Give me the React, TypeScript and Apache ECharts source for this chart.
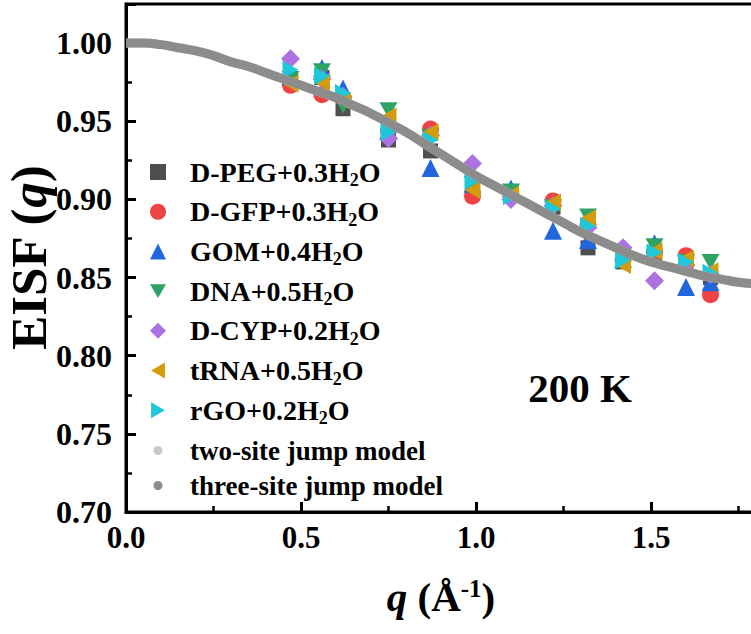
import React, { useEffect, useRef } from "react";
import * as echarts from "echarts";

const Q = [0.47, 0.56, 0.62, 0.75, 0.87, 0.99, 1.1, 1.22, 1.32, 1.42, 1.51, 1.6, 1.67];
const D_PEG = [0.977, 0.978, 0.958, 0.938, 0.931, 0.908, 0.903, 0.895, 0.869, 0.860, 0.866, 0.860, 0.850];
const D_GFP = [0.973, 0.967, 0.965, 0.944, 0.945, 0.902, 0.903, 0.899, 0.884, 0.861, 0.866, 0.864, 0.839];
const GOM = [0.979, 0.984, 0.971, 0.944, 0.920, 0.910, 0.907, 0.880, 0.874, 0.862, 0.872, 0.844, 0.847];
const DNA = [0.977, 0.982, 0.960, 0.957, 0.940, 0.910, 0.905, 0.895, 0.889, 0.862, 0.870, 0.860, 0.860];
const D_CYP = [0.990, 0.977, 0.966, 0.939, 0.941, 0.923, 0.900, 0.896, 0.882, 0.869, 0.848, 0.858, 0.852];
const TRNA = [0.974, 0.975, 0.963, 0.953, 0.943, 0.906, 0.903, 0.898, 0.888, 0.858, 0.867, 0.862, 0.854];
const RGO = [0.983, 0.979, 0.968, 0.943, 0.938, 0.912, 0.902, 0.894, 0.883, 0.861, 0.866, 0.860, 0.853];

const MODEL_Q = [0, 0.05, 0.1, 0.15, 0.2, 0.25, 0.3, 0.35, 0.4, 0.45, 0.5, 0.55, 0.6, 0.65, 0.7, 0.75, 0.8, 0.85, 0.9, 0.95, 1.0, 1.05, 1.1, 1.15, 1.2, 1.25, 1.3, 1.35, 1.4, 1.45, 1.5, 1.55, 1.6, 1.65, 1.7, 1.75, 1.8];
const THREE_SITE = [1.0, 1.0, 0.999, 0.997, 0.995, 0.992, 0.988, 0.985, 0.981, 0.977, 0.973, 0.969, 0.965, 0.960, 0.955, 0.949, 0.943, 0.936, 0.929, 0.922, 0.915, 0.909, 0.903, 0.897, 0.891, 0.885, 0.879, 0.874, 0.869, 0.864, 0.860, 0.857, 0.854, 0.851, 0.849, 0.847, 0.846];
const TWO_SITE = [1.0, 1.0, 0.999, 0.997, 0.995, 0.992, 0.988, 0.985, 0.981, 0.977, 0.973, 0.969, 0.965, 0.960, 0.955, 0.949, 0.943, 0.936, 0.929, 0.922, 0.915, 0.909, 0.903, 0.897, 0.891, 0.885, 0.879, 0.874, 0.869, 0.864, 0.860, 0.857, 0.854, 0.851, 0.849, 0.847, 0.846];

const X_TICKS = ["0.0", "0.5", "1.0", "1.5"];
const Y_TICKS = ["0.70", "0.75", "0.80", "0.85", "0.90", "0.95", "1.00"];

const FONT = "'Liberation Serif', 'Times New Roman', serif";

const SAMPLES = [
  { name: "D-PEG+0.3H2O", pre: "D-PEG+0.3H", post: "O", data: D_PEG, color: "#4f4f4f", symbol: "rect", size: 15 },
  { name: "D-GFP+0.3H2O", pre: "D-GFP+0.3H", post: "O", data: D_GFP, color: "#ef4343", symbol: "circle", size: 17 },
  { name: "GOM+0.4H2O", pre: "GOM+0.4H", post: "O", data: GOM, color: "#2266dd", symbol: "triangle", size: 18 },
  { name: "DNA+0.5H2O", pre: "DNA+0.5H", post: "O", data: DNA, color: "#2fa265", symbol: "path://M0,0 L12,0 L6,10.4 Z", size: [18, 16] },
  { name: "D-CYP+0.2H2O", pre: "D-CYP+0.2H", post: "O", data: D_CYP, color: "#ac72e2", symbol: "diamond", size: 19 },
  { name: "tRNA+0.5H2O", pre: "tRNA+0.5H", post: "O", data: TRNA, color: "#d39c0c", symbol: "path://M0,6 L10.4,0 L10.4,12 Z", size: [16, 18] },
  { name: "rGO+0.2H2O", pre: "rGO+0.2H", post: "O", data: RGO, color: "#1ec8d8", symbol: "path://M0,0 L10.4,6 L0,12 Z", size: [16, 18] },
];

export default function App() {
  const ref = useRef<HTMLDivElement>(null);
  useEffect(() => {
    if (!ref.current) return;
    const chart = echarts.init(ref.current, null, { renderer: "svg" });
    const nameMap: Record<string, { pre: string; post: string }> = {};
    SAMPLES.forEach((s) => (nameMap[s.name] = { pre: s.pre, post: s.post }));

    const series: any[] = SAMPLES.map((s, i) => ({
      type: "scatter",
      name: s.name,
      symbol: s.symbol,
      symbolSize: s.size,
      itemStyle: { color: s.color, opacity: 1 },
      data: Q.map((q, j) => [q, s.data[j]]),
      z: 2 + i,
    }));
    series.push({
      type: "line",
      name: "two-site jump model",
      data: MODEL_Q.map((q, j) => [q, TWO_SITE[j]]),
      smooth: true,
      showSymbol: false,
      symbol: "circle",
      lineStyle: { color: "#c8c8c8", width: 9 },
      itemStyle: { color: "#c8c8c8" },
      z: 10,
    });
    series.push({
      type: "line",
      name: "three-site jump model",
      data: MODEL_Q.map((q, j) => [q, THREE_SITE[j]]),
      smooth: true,
      showSymbol: false,
      symbol: "circle",
      lineStyle: { color: "#8c8c8c", width: 9 },
      itemStyle: { color: "#8c8c8c" },
      z: 11,
    });

    const option: any = {
      animation: false,
      backgroundColor: "#ffffff",
      textStyle: { fontFamily: FONT },
      grid: {
        left: 126,
        right: -5,
        top: 4,
        bottom: 122,
        outerBoundsMode: "none",
        containLabel: false,
        show: true,
        borderColor: "#000",
        borderWidth: 3,
        backgroundColor: "transparent",
      },
      xAxis: {
        type: "value",
        min: 0,
        max: 1.8,
        interval: 0.5,
        name: "{i|q}{b| (Å}{sup|-1}{b|)}",
        nameLocation: "middle",
        nameGap: 64,
        nameMoveOverlap: false,
        nameTextStyle: {
          rich: {
            i: { fontFamily: FONT, fontSize: 41, fontWeight: "bold", fontStyle: "italic", color: "#000" },
            b: { fontFamily: FONT, fontSize: 41, fontWeight: "bold", color: "#000" },
            sup: { fontFamily: FONT, fontSize: 25, fontWeight: "bold", color: "#000", verticalAlign: "top", lineHeight: 40 },
          },
        },
        axisLine: { show: true, lineStyle: { color: "#000", width: 3 } },
        axisTick: { show: true, inside: true, length: 10, lineStyle: { color: "#000", width: 3 } },
        minorTick: { show: true, splitNumber: 2, length: 6, lineStyle: { color: "#000", width: 2.5 } },
        splitLine: { show: false },
        axisLabel: {
          show: true,
          margin: 10,
          showMaxLabel: false,
          fontFamily: FONT,
          fontSize: 31,
          fontWeight: "bold",
          color: "#000",
          formatter: (v: number) => {
            const idx = Math.round(v / 0.5);
            return Math.abs(v - idx * 0.5) < 1e-6 && idx < X_TICKS.length ? X_TICKS[idx] : "";
          },
        },
      },
      yAxis: {
        type: "value",
        min: 0.7,
        max: 1.025,
        interval: 0.05,
        name: "{b|EISF (}{i|q}{b|)}",
        nameLocation: "middle",
        nameRotate: 90,
        nameGap: 72,
        nameMoveOverlap: false,
        nameTextStyle: {
          rich: {
            i: { fontFamily: FONT, fontSize: 51, fontWeight: "bold", fontStyle: "italic", color: "#000" },
            b: { fontFamily: FONT, fontSize: 51, fontWeight: "bold", color: "#000" },
          },
        },
        axisLine: { show: true, lineStyle: { color: "#000", width: 3 } },
        axisTick: { show: true, inside: true, length: 10, lineStyle: { color: "#000", width: 3 } },
        minorTick: { show: true, splitNumber: 2, length: 6, lineStyle: { color: "#000", width: 2.5 } },
        splitLine: { show: false },
        axisLabel: {
          show: true,
          margin: 14,
          showMaxLabel: false,
          fontFamily: FONT,
          fontSize: 32,
          fontWeight: "bold",
          color: "#000",
          formatter: (v: number) => {
            const idx = Math.round((v - 0.7) / 0.05);
            return Math.abs(v - (0.7 + idx * 0.05)) < 1e-6 && idx < Y_TICKS.length ? Y_TICKS[idx] : "";
          },
        },
      },
      legend: [
        {
          orient: "vertical",
          left: 150,
          top: 158,
          padding: 0,
          itemWidth: 16,
          itemHeight: 16,
          itemGap: 8.7,
          selectedMode: false,
          data: SAMPLES.map((s) => ({ name: s.name })),
          formatter: (n: string) => {
            const m = nameMap[n];
            return "{sp|}{a|" + m.pre + "}{s|2}{a|" + m.post + "}";
          },
          textStyle: {
            rich: {
              sp: { width: 19, lineHeight: 34 },
              a: { fontFamily: FONT, fontSize: 28, fontWeight: "bold", color: "#000", lineHeight: 34 },
              s: { fontFamily: FONT, fontSize: 18, fontWeight: "bold", color: "#000", verticalAlign: "bottom", lineHeight: 17 },
            },
          },
        },
        {
          orient: "vertical",
          left: 153.5,
          top: 437,
          padding: 0,
          itemWidth: 9,
          itemHeight: 9,
          itemGap: 8,
          selectedMode: false,
          data: [
            { name: "two-site jump model", icon: "circle" },
            { name: "three-site jump model", icon: "circle" },
          ],
          formatter: (n: string) => "{sp|}{a|" + n + "}",
          textStyle: {
            rich: {
              sp: { width: 22.5, lineHeight: 30 },
              a: { fontFamily: FONT, fontSize: 27, fontWeight: "bold", color: "#000", lineHeight: 30 },
            },
          },
        },
      ],
      graphic: [
        {
          type: "text",
          x: 580,
          y: 388,
          style: {
            text: "200 K",
            font: "bold 41px " + FONT,
            fill: "#000",
            align: "center",
            verticalAlign: "middle",
          },
        },
      ],
      series,
    };
    chart.setOption(option);
    return () => chart.dispose();
  }, []);
  return <div ref={ref} style={{ width: 751, height: 634, position: "absolute", left: 0, top: 0, background: "#fff" }} />;
}
